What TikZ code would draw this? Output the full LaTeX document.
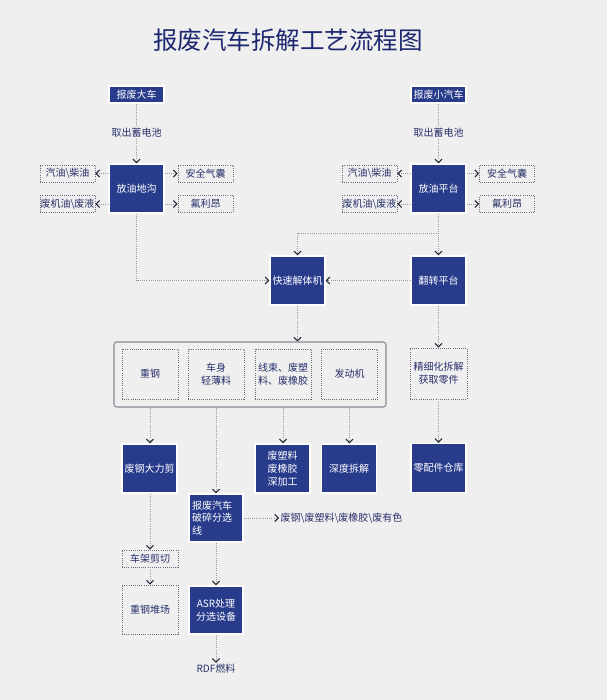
\documentclass[tikz,border=0pt]{standalone}
\usepackage{fontspec}
\setmainfont{Noto Sans CJK SC}
\usetikzlibrary{arrows.meta}
\definecolor{bg}{HTML}{EFEFEF}
\definecolor{boxblue}{HTML}{293C8C}
\definecolor{txt}{HTML}{27306A}
\definecolor{linegray}{HTML}{9A9A9A}
\definecolor{dotgray}{HTML}{6A6A78}
\definecolor{tipc}{HTML}{222838}
\definecolor{titlec}{HTML}{1E2870}
\newcommand{\fsz}{\fontsize{7.5pt}{9.6pt}\selectfont}
\tikzset{
  x=0.75pt, y=-0.75pt,
  mainbox/.style={fill=boxblue, draw=white, line width=1pt, text=white, inner sep=0pt,
    minimum width=41.25pt, minimum height=36.75pt, align=center, font=\fsz},
  topbox/.style={mainbox, minimum height=12.75pt},
  sidebox/.style={draw=dotgray, densely dotted, line width=0.6pt, text=txt, inner sep=0pt,
    minimum width=41.25pt, minimum height=12.75pt, align=center, font=\fsz},
  bigdot/.style={sidebox, minimum width=42pt, minimum height=37.5pt},
  plain/.style={text=txt, inner sep=1pt, font=\fsz, fill=bg},
  conn/.style={draw=linegray, densely dotted, line width=0.6pt,
    -{Straight Barb[length=2.6pt,width=5.4pt,color=tipc,line width=0.8pt]}},
  seg/.style={draw=linegray, densely dotted, line width=0.6pt}
}
\begin{document}
\begin{tikzpicture}
\fill[bg] (0,0) rectangle (607,700);
\useasboundingbox (0,0) rectangle (607,700);

% title
\node[text=titlec, font=\fontsize{18.4pt}{20pt}\selectfont] (title) at (288,40) {报废汽车拆解工艺流程图};

% top row
\node[topbox] (bigcar) at (136.5,94.5) {报废大车};
\node[topbox] (smallcar) at (438.5,94.5) {报废小汽车};
\node[plain] (batt1) at (136.5,133) {取出蓄电池};
\node[plain] (batt2) at (438.5,133) {取出蓄电池};

\node[mainbox] (pit) at (136.5,188.5) {放油地沟};
\node[mainbox] (plat) at (438.5,188.5) {放油平台};

\node[sidebox] (gas1) at (67.5,173.5) {汽油\textbackslash{}柴油};
\node[sidebox] (oil1) at (67.5,204) {废机油\textbackslash{}废液};
\node[sidebox] (air1) at (205.5,173.5) {安全气囊};
\node[sidebox] (fre1) at (205.5,204) {氟利昂};
\node[sidebox] (gas2) at (369.5,173.5) {汽油\textbackslash{}柴油};
\node[sidebox] (oil2) at (369.5,204) {废机油\textbackslash{}废液};
\node[sidebox] (air2) at (507,173.5) {安全气囊};
\node[sidebox] (fre2) at (507,204) {氟利昂};

\node[mainbox] (quick) at (297.5,280.5) {快速解体机};
\node[mainbox] (flip) at (438.5,280.5) {翻转平台};
\coordinate (br) at (438.5,233);

% group
\node[draw=dotgray!80!white, line width=0.8pt, rounded corners=2pt, minimum width=204pt, minimum height=48.75pt, inner sep=0pt] (group) at (250,374.5) {};
\node[bigdot] (heavy) at (150,374) {重钢};
\node[bigdot] (body) at (216,374) {车身\\轻薄料};
\node[bigdot] (wire) at (283,374) {线束、废塑\\料、废橡胶};
\node[bigdot] (engine) at (349.5,374) {发动机};
\node[bigdot, minimum width=42.75pt, minimum height=38.25pt] (fine) at (438.5,373.5) {精细化拆解\\获取零件};

% lower row
\node[mainbox] (shear) at (149.5,468.5) {废钢大力剪};
\node[mainbox] (plastic) at (282.5,468.5) {废塑料\\废橡胶\\深加工};
\node[mainbox] (deep) at (349,468.5) {深度拆解};
\node[mainbox] (parts) at (438.5,468) {零配件仓库};
\node[mainbox, minimum width=40.5pt, minimum height=36pt, align=left, text width=36pt] (crush) at (216,518) {报废汽车\\破碎分选\\线};
\node[plain, anchor=west] (out) at (279,518) {废钢\textbackslash{}废塑料\textbackslash{}废橡胶\textbackslash{}废有色};
\node[sidebox, minimum width=42pt] (cut) at (150,558.5) {车架剪切};
\node[bigdot, minimum height=36.75pt] (heap) at (150,609.5) {重钢堆场};
\node[mainbox, minimum width=40.5pt, minimum height=36pt] (asr) at (216,610) {ASR处理\\分选设备};
\node[plain] (rdf) at (216,669) {RDF燃料};

% connectors
\draw[seg] (bigcar.south) -- (batt1.north);
\draw[conn] (batt1.south) -- (pit.north);
\draw[seg] (smallcar.south) -- (batt2.north);
\draw[conn] (batt2.south) -- (plat.north);

\draw[conn] (pit.west |- gas1) -- (gas1.east);
\draw[conn] (pit.west |- oil1) -- (oil1.east);
\draw[conn] (pit.east |- air1) -- (air1.west);
\draw[conn] (pit.east |- fre1) -- (fre1.west);
\draw[conn] (plat.west |- gas2) -- (gas2.east);
\draw[conn] (plat.west |- oil2) -- (oil2.east);
\draw[conn] (plat.east |- air2) -- (air2.west);
\draw[conn] (plat.east |- fre2) -- (fre2.west);

\draw[conn] (pit.south) |- (quick.west);
\draw[conn] (plat.south) -- (flip.north);
\draw[conn] (br) -| (quick.north);
\draw[conn] (flip.west) -- (quick.east);
\draw[conn] (quick.south) -- (group.north -| quick.south);

\draw[conn] (heavy.south |- group.south) -- (shear.north -| heavy.south);
\draw[conn] (body.south |- group.south) -- (crush.north);
\draw[conn] (wire.south |- group.south) -- (plastic.north -| wire.south);
\draw[conn] (engine.south |- group.south) -- (deep.north -| engine.south);
\draw[conn] (flip.south) -- (fine.north);
\draw[conn] (fine.south) -- (parts.north);

\draw[conn] (shear.south -| cut.north) -- (cut.north);
\draw[conn] (cut.south) -- (heap.north);
\draw[conn] (crush.east) -- (out.west);
\draw[conn] (crush.south) -- (asr.north);
\draw[conn] (asr.south) -- (rdf.north);
\end{tikzpicture}
\end{document}
